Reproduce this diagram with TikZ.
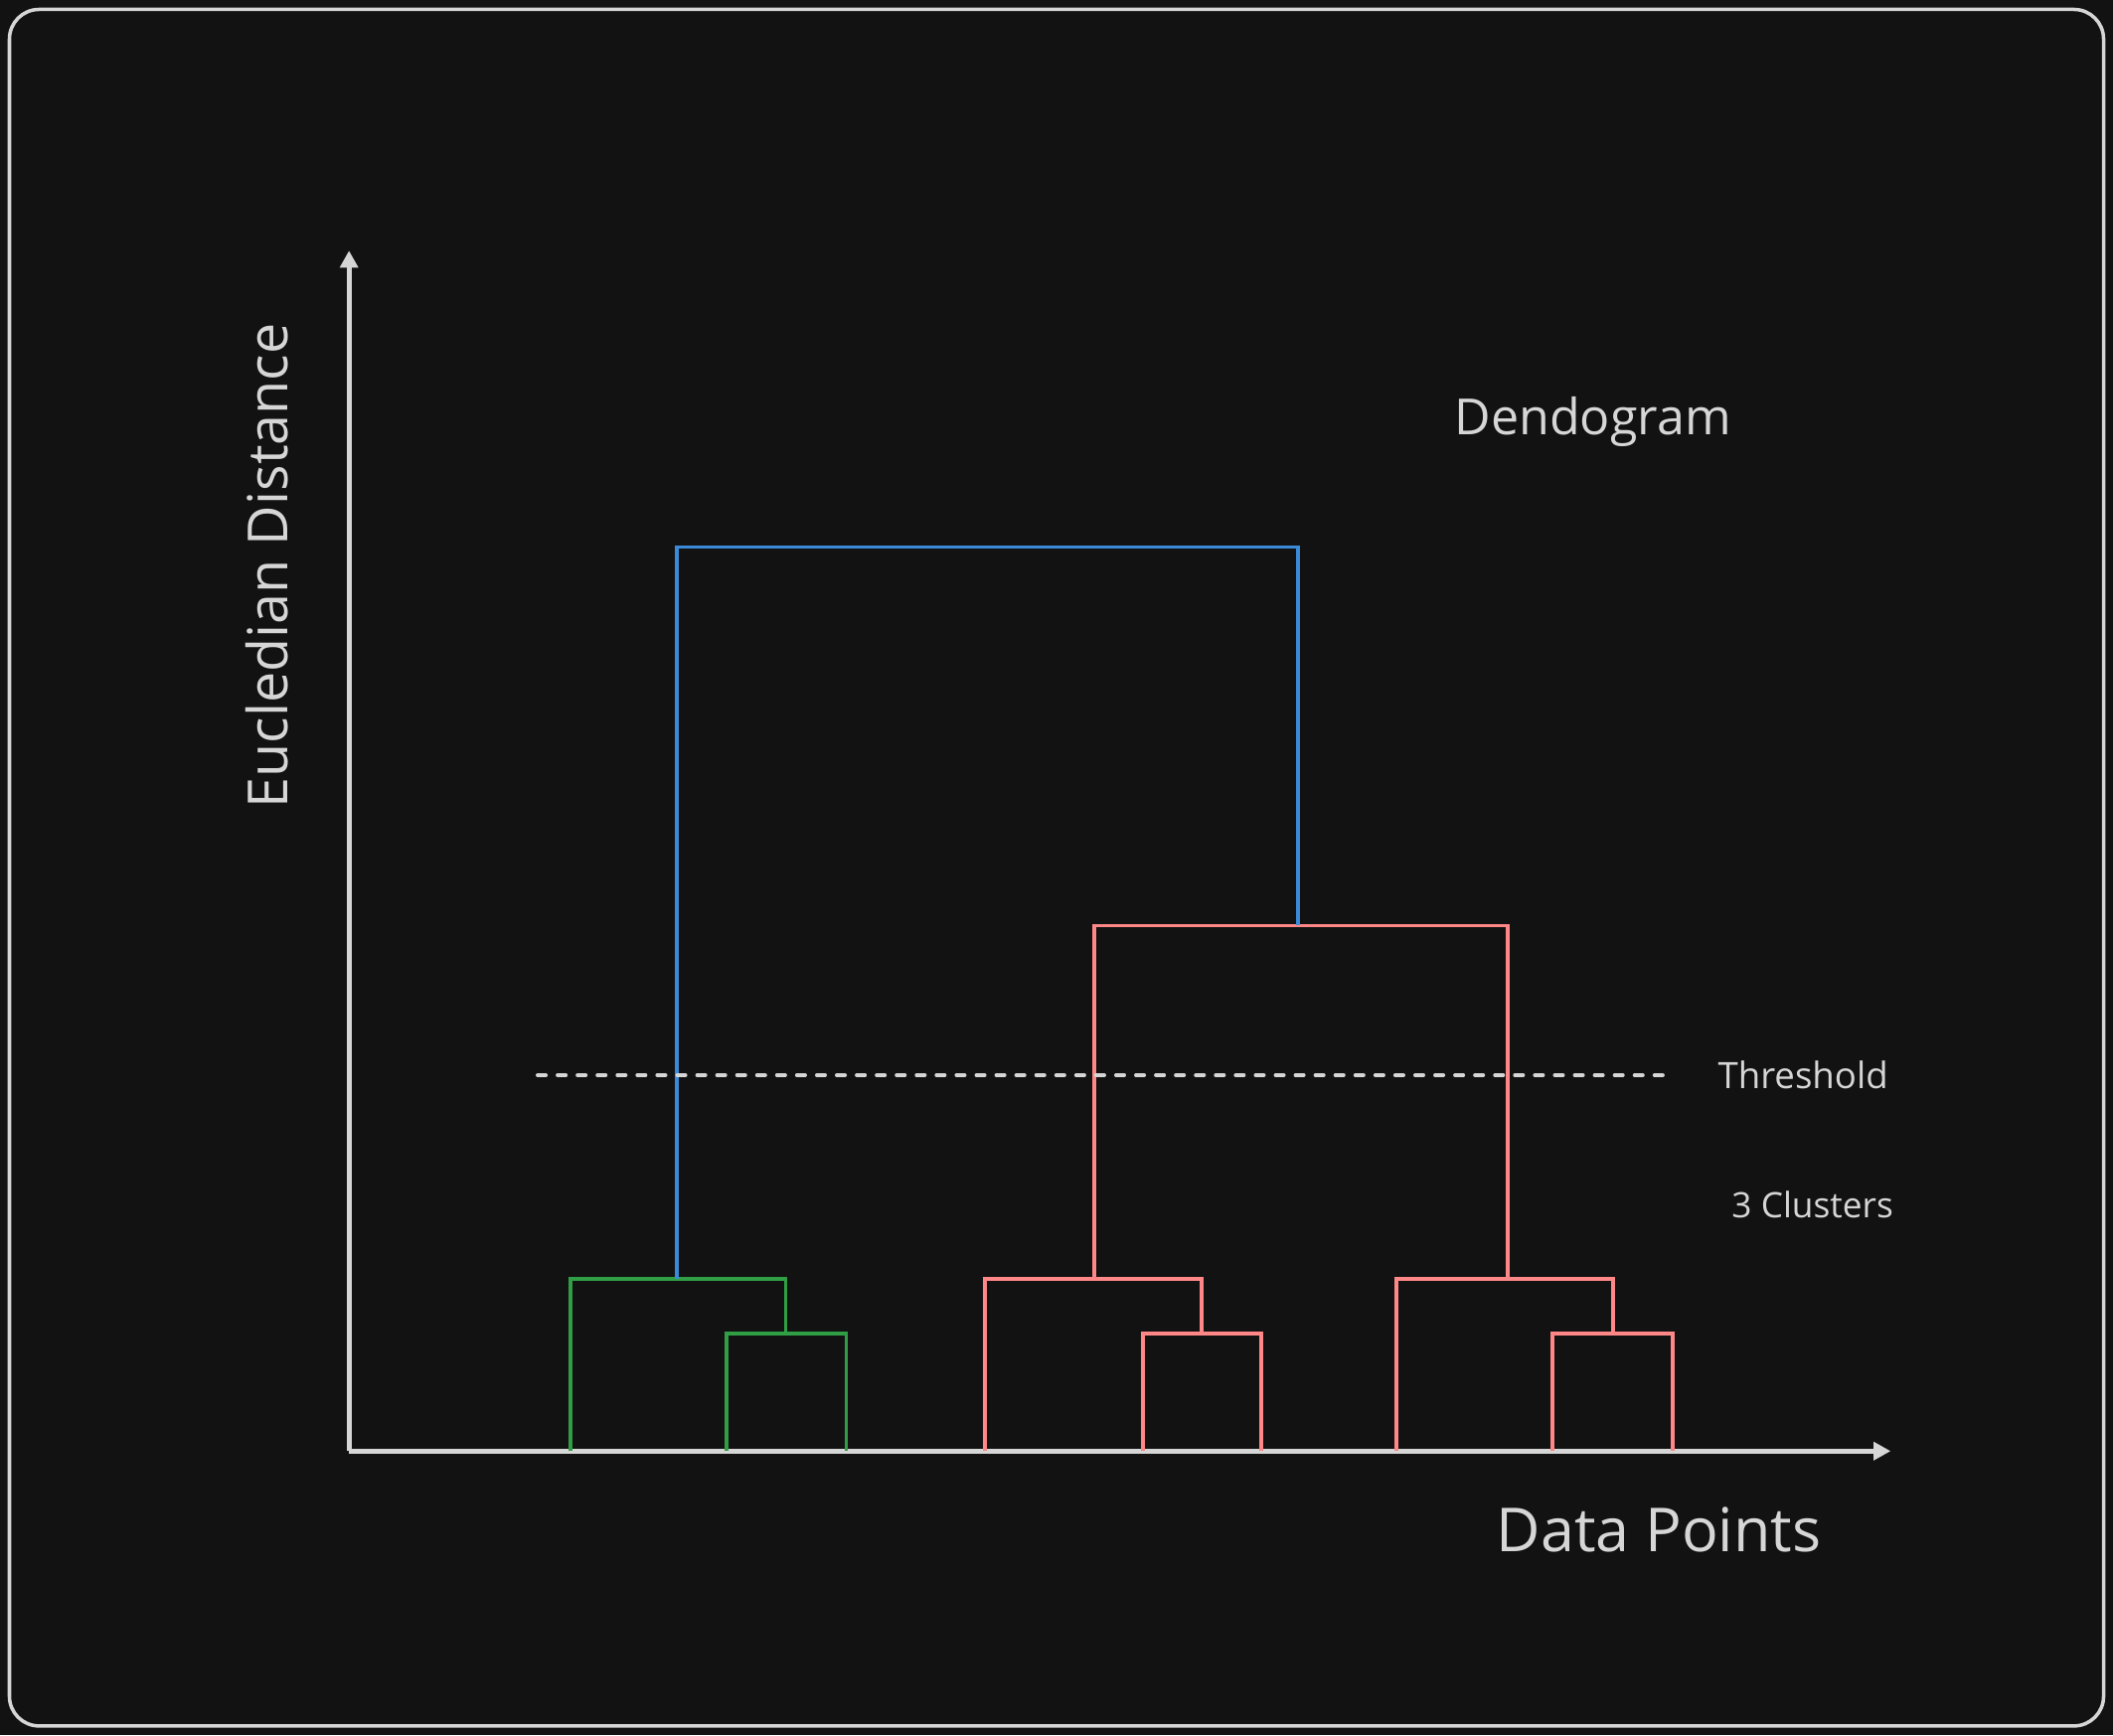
\documentclass[tikz,border=0pt]{standalone}
\usepackage{fontspec}
\setmainfont{Open Sans}
\usepackage{tikz}
\usetikzlibrary{arrows}
\usetikzlibrary{arrows.meta}
\usetikzlibrary{positioning}
\definecolor{bg}{HTML}{121212}
\definecolor{ink}{HTML}{D6D6D6}
\definecolor{linkblue}{HTML}{3A8AD8}
\definecolor{linkred}{HTML}{FF8787}
\definecolor{linkgreen}{HTML}{2F9E44}
\tikzset{
  axis/.style={-{Triangle[length=6.3pt,width=6.5pt]},ink,line width=1.9pt},
  blue link/.style={linkblue,line width=1.45pt},
  red link/.style={linkred,line width=1.45pt},
  green link/.style={linkgreen,line width=1.45pt},
  cut/.style={ink,line width=1.45pt,line cap=round,dash pattern=on 3pt off 4.4pt},
  label/.style={ink,inner sep=0, font=\fontsize{20}{24}\selectfont},
  small label/.style={ink,inner sep=0, font=\fontsize{13.5}{16}\selectfont}
}

\begin{document}
\begin{tikzpicture}[x=0.5pt,y=-0.5pt]
  \fill[bg] (0,0) rectangle (1568,1288);
  \useasboundingbox (0,0) rectangle (1568,1288);
  \draw[ink,line width=1.3pt,rounded corners=11pt] (7,7) rectangle (1561,1281);

  % axes
  \coordinate (o) at (259,1077);
  \coordinate (ytop) at (259,186);
  \coordinate (xend) at (1403,1077);
  \draw[axis] (o) -- (ytop);
  \draw[axis] (o) -- (xend);

  % leaves
  \foreach \name/\x in {a/423,b/539,c/628,d/731,e/848,f/936,g/1036,h/1152,i/1241}
    \coordinate (\name) at (\x,1077);

  % green cluster
  \draw[green link] (b) |- (583,990) coordinate (bc) -| (c);
  \draw[green link] (a) |- (502,949) coordinate (abc) -| (bc);
  % red cluster one
  \draw[red link] (e) |- (892,990) coordinate (ef) -| (f);
  \draw[red link] (d) |- (812,949) coordinate (def) -| (ef);
  % red cluster two
  \draw[red link] (h) |- (1197,990) coordinate (hi) -| (i);
  \draw[red link] (g) |- (1119,949) coordinate (ghi) -| (hi);
  % upper merges
  \draw[red link] (def) |- (963,687) coordinate (top) -| (ghi);
  \draw[blue link] (abc) |- (732,406) -| (top);

  % threshold
  \coordinate (cutL) at (399,798);
  \coordinate (cutR) at (1242,798);
  \draw[cut] (cutL) -- (cutR);

  % labels
  \node[label,font=\fontsize{20.5}{24}\selectfont,rotate=90] (ylabel) at (198,420) {Eucledian Distance};
  \node[label,font=\fontsize{22.5}{26}\selectfont] (xlabel) at (1231,1135) {Data Points};
  \node[label,font=\fontsize{18.5}{22}\selectfont] (title) at (1182,313) {Dendogram};
  \node[small label] (thr) at (1338,798) {Threshold};
  \node[small label,font=\fontsize{13}{16}\selectfont] (clus) at (1345,894) {3 Clusters};
\end{tikzpicture}
\end{document}
